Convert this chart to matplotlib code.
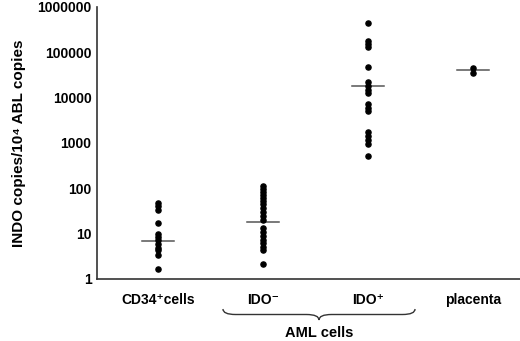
import matplotlib
matplotlib.use("Agg")
import matplotlib.pyplot as plt
from matplotlib.path import Path
from matplotlib.patches import PathPatch
import matplotlib.transforms as mtransforms

plt.rcParams['font.family'] = ['Liberation Sans', 'DejaVu Sans']
plt.rcParams['font.weight'] = 'bold'

categories = ["CD34\u207acells", "IDO\u207b", "IDO\u207a", "placenta"]
cd34 = [48, 40, 34, 17, 9.8, 8.6, 7.3, 6.0, 4.9, 4.3, 3.3, 1.7]
ido_neg = [110, 95, 82, 70, 60, 52, 44, 37, 30, 25, 20, 13.5, 11, 9.1, 7.4, 6.1, 5.0, 4.3, 2.1]
ido_pos = [445000, 180000, 150000, 132000, 47000, 22000, 18000, 14700, 12400,
           7100, 6000, 5000, 1740, 1400, 1180, 950, 520]
placenta = [45000, 35000]
medians = [6.9, 18.5, 18000, 41000]
ytick_vals = [1, 10, 100, 1000, 10000, 100000, 1000000]
ytick_labels = ["1", "10", "100", "1000", "10000", "100000", "1000000"]
group_label = "AML cells"
ylabel = "INDO copies/10\u2074 ABL copies"

series = [cd34, ido_neg, ido_pos, placenta]

W, H = 520, 341
fig = plt.figure(figsize=(W / 100, H / 100), dpi=100)
ax = fig.add_axes([97 / W, (H - 279) / H, (W - 97) / W, 272 / H])

for i, vals in enumerate(series):
    ax.plot([i] * len(vals), vals, 'o', color='black', markersize=3.7, zorder=3)
    ax.plot([i - 0.15, i + 0.15], [medians[i], medians[i]], color='#555555', lw=1.1, zorder=2)

ax.set_yscale('log')
ax.set_ylim(1, 1e6)
ax.set_xlim(-0.58, 3.45)
ax.yaxis.set_major_locator(matplotlib.ticker.FixedLocator(ytick_vals))
ax.yaxis.set_minor_locator(matplotlib.ticker.NullLocator())
ax.set_yticklabels(ytick_labels)
ax.set_xticks(range(len(categories)))
ax.set_xticklabels(categories)
ax.tick_params(axis='both', length=0, labelsize=10)
ax.tick_params(axis='y', pad=4)
ax.tick_params(axis='x', pad=10)
for lab in ax.get_xticklabels() + ax.get_yticklabels():
    lab.set_fontweight('bold')
for s in ['top', 'right']:
    ax.spines[s].set_visible(False)
for s in ['left', 'bottom']:
    ax.spines[s].set_color('#333333')
    ax.spines[s].set_linewidth(1.2)

ax.set_ylabel(ylabel, fontsize=11, fontweight='bold', labelpad=8)

# curly brace under IDO- and IDO+
trans = mtransforms.blended_transform_factory(ax.transData, fig.transFigure)
x0, x1 = 1 - 0.38, 2 + 0.45
xm = (x0 + x1) / 2
ytop = (H - 309) / H
ybot = (H - 320) / H
ymid = (ytop + ybot) / 2
d = 0.12
verts = [
    (x0, ytop), (x0, ymid), (x0 + d, ymid),
    (xm - d, ymid), (xm, ymid), (xm, ybot),
    (xm, ymid), (xm + d, ymid),
    (x1 - d, ymid), (x1, ymid), (x1, ytop),
]
codes = [Path.MOVETO, Path.CURVE3, Path.CURVE3,
         Path.LINETO, Path.CURVE3, Path.CURVE3,
         Path.CURVE3, Path.CURVE3,
         Path.LINETO, Path.CURVE3, Path.CURVE3]
patch = PathPatch(Path(verts, codes), transform=trans, fill=False,
                  edgecolor='#333333', lw=1.0, clip_on=False)
fig.add_artist(patch)

fig.text(xm, (H - 333) / H, group_label, transform=trans, ha='center', va='center',
         fontsize=10.5, fontweight='bold')

fig.savefig("out.png", dpi=100)
